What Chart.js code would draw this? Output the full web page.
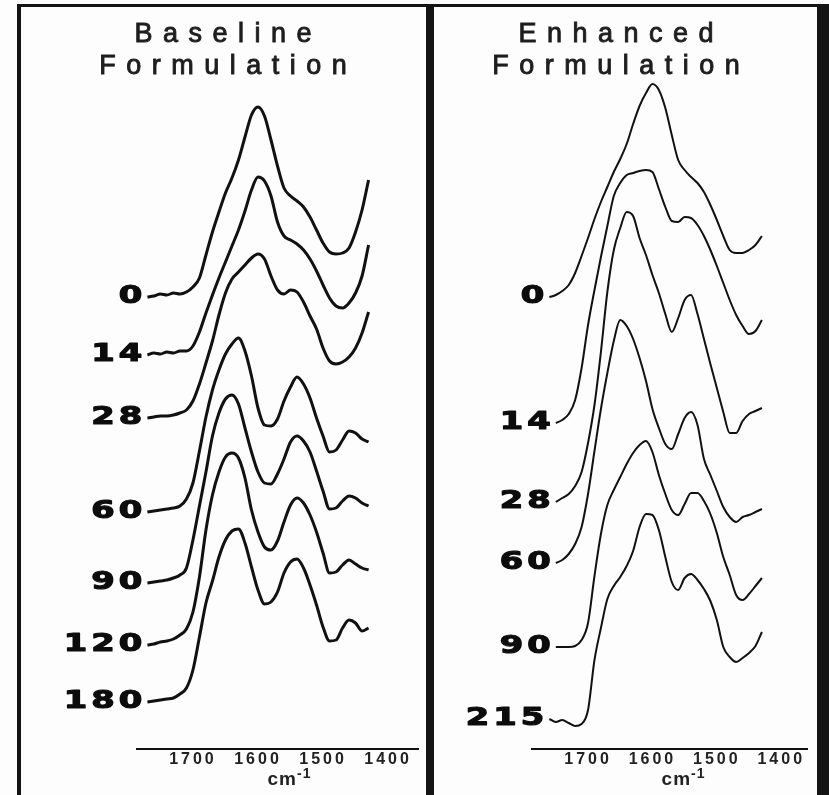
<!DOCTYPE html>
<html>
<head>
<meta charset="utf-8">
<script src="https://cdn.jsdelivr.net/npm/chart.js@4.4.0/dist/chart.umd.min.js"></script>
<style>
  body { margin: 0; background: #fdfdfd; }
  #wrap { position: relative; width: 829px; height: 795px; overflow: hidden; background: #fdfdfd; }
  .bar { position: absolute; background: #141414; }
  .panel { position: absolute; top: 7px; }
  .title {
    position: absolute; top: 17px; width: 400px; box-sizing: border-box; padding-left: 10.5px;
    font-family: 'Liberation Sans', Arial, sans-serif; font-size: 27px; line-height: 32px;
    letter-spacing: 10.5px; text-align: center; color: #1e1e1e; -webkit-text-stroke: 0.9px #1e1e1e;
  }
</style>
</head>
<body>
<div id="wrap">
  <div class="bar" style="left:17px;top:4px;width:812px;height:3px"></div>
  <div class="bar" style="left:17px;top:4px;width:4px;height:791px"></div>
  <div class="bar" style="left:426px;top:4px;width:8px;height:791px"></div>
  <div class="bar" style="left:817px;top:4px;width:12px;height:791px"></div>
  <canvas id="baseline" class="panel" width="405" height="788" style="left:21px"></canvas>
  <canvas id="enhanced" class="panel" width="383" height="788" style="left:434px"></canvas>
  <div class="title" style="left:23px">Baseline<br>Formulation</div>
  <div class="title" style="left:416px">Enhanced<br>Formulation</div>
</div>
<script>
// wavenumber grid (cm-1), shared by both panels
const wavenumbers = [1770, 1760, 1750, 1740, 1730, 1720, 1710, 1700, 1690, 1680, 1670, 1660, 1650, 1640, 1630, 1620, 1610, 1600, 1590, 1580, 1570, 1560, 1550, 1540, 1530, 1520, 1510, 1500, 1490, 1480, 1470, 1460, 1450, 1440, 1430];
const tickValues = [1700, 1600, 1500, 1400];
const unitAt = 1540;

// stacked (offset) intensities, baseline formulation
const baselineDays = ['0', '14', '28', '60', '90', '120', '180'];
const baseline0 = [452, 453, 455, 454, 456, 455, 457, 462, 471, 494, 517, 537, 556, 571, 589, 612, 634, 642, 633, 609, 583, 561, 553, 548, 542, 532, 519, 506, 497, 495, 496, 501, 517, 539, 569];
const baseline14 = [394, 396, 395, 397, 396, 398, 398, 403, 417, 436, 454, 471, 487, 503, 519, 538, 559, 572, 568, 553, 527, 513, 509, 505, 499, 490, 478, 464, 451, 443, 441, 446, 456, 473, 504];
const baseline28 = [331, 332, 333, 333, 334, 336, 339, 348, 365, 386, 408, 434, 456, 470, 477, 484, 491, 495, 490, 473, 459, 455, 459, 457, 447, 433, 420, 401, 388, 385, 387, 392, 401, 416, 437];
const baseline60 = [237, 238, 239, 240, 241, 243, 250, 266, 298, 332, 359, 379, 395, 405, 411, 398, 373, 341, 324, 323, 330, 348, 362, 372, 365, 351, 331, 313, 297, 299, 309, 318, 316, 310, 307];
const baseline90 = [166, 167, 168, 169, 171, 174, 181, 209, 243, 277, 313, 336, 350, 354, 345, 321, 297, 277, 266, 265, 275, 290, 307, 313, 308, 297, 278, 258, 240, 241, 248, 253, 251, 246, 243];
const baseline120 = [104, 105, 107, 108, 110, 114, 120, 137, 172, 219, 254, 277, 292, 296, 291, 271, 239, 217, 202, 199, 208, 227, 244, 251, 246, 234, 217, 196, 176, 177, 184, 189, 185, 181, 179];
const baseline180 = [47, 48, 49, 50, 51, 55, 61, 79, 112, 146, 168, 192, 209, 218, 220, 206, 182, 159, 145, 147, 157, 176, 187, 190, 181, 164, 144, 122, 108, 109, 121, 129, 126, 118, 121];

// stacked (offset) intensities, enhanced formulation
const enhancedDays = ['0', '14', '28', '60', '90', '215'];
const enhanced0 = [null, 452, 454, 458, 464, 476, 493, 511, 530, 547, 562, 577, 590, 605, 625, 643, 656, 665, 659, 641, 614, 589, 579, 572, 566, 557, 544, 529, 513, 499, 496, 496, 499, 504, 513];
const enhanced14 = [null, null, 326, 329, 335, 349, 381, 424, 459, 492, 523, 553, 566, 574, 576, 578, 579, 577, 560, 542, 528, 527, 532, 531, 524, 513, 499, 483, 466, 449, 434, 423, 415, 418, 429];
const enhanced28 = [null, null, 247, 251, 255, 263, 277, 306, 344, 397, 457, 499, 521, 537, 533, 511, 494, 474, 456, 435, 417, 431, 449, 454, 435, 410, 385, 361, 337, 316, 316, 328, 335, 338, 341];
const enhanced60 = [null, null, 186, 189, 195, 205, 222, 255, 298, 340, 376, 408, 429, 423, 410, 391, 368, 340, 321, 305, 300, 315, 331, 337, 324, 290, 274, 258, 242, 232, 227, 232, 234, 237, 240];
const enhanced90 = [null, null, 102, 102, 102, 103, 109, 126, 173, 215, 244, 259, 272, 285, 296, 304, 308, 297, 274, 255, 239, 234, 245, 256, 256, 248, 235, 216, 192, 174, 154, 149, 155, 163, 171];
const enhanced215 = [null, 30, 27, 29, 26, 23, 25, 39, 89, 121, 150, 163, 172, 183, 198, 222, 235, 234, 219, 192, 167, 159, 171, 175, 169, 160, 148, 129, 102, 92, 87, 91, 96, 103, 117];

Chart.defaults.font.family = "'Liberation Sans', Arial, sans-serif";

// day labels at the start of every trace
const dayLabels = {
  id: 'dayLabels',
  afterDatasetsDraw(chart) {
    const ctx = chart.ctx;
    chart.data.datasets.forEach((ds, i) => {
      const pt = chart.getDatasetMeta(i).data[0];
      ctx.save();
      ctx.fillStyle = '#0c0c0c';
      ctx.strokeStyle = '#0c0c0c';
      ctx.lineWidth = 1.2;
      ctx.lineJoin = 'round';
      ctx.font = "bold 25px 'DejaVu Sans'";
      ctx.textAlign = 'right';
      ctx.textBaseline = 'middle';
      ctx.letterSpacing = '3px';
      ctx.translate(pt.x - 1, pt.y - 1);
      ctx.scale(1.35, 1);
      ctx.fillText(ds.label, 0, 0);
      ctx.strokeText(ds.label, 0, 0);
      ctx.restore();
    });
  }
};

// cm-1 under the axis, plus wider spacing for the tick numbers
const unitLabel = {
  id: 'unitLabel',
  beforeDraw(chart) {
    chart.ctx.letterSpacing = '3px';
  },
  afterDraw(chart) {
    const ctx = chart.ctx;
    const x = chart.scales.x;
    const px = x.getPixelForValue(unitAt);
    const py = x.top + 36;
    ctx.save();
    ctx.letterSpacing = '1px';
    ctx.fillStyle = '#222';
    ctx.font = "bold 19px 'Liberation Sans'";
    ctx.textAlign = 'right';
    ctx.textBaseline = 'alphabetic';
    ctx.fillText('cm', px, py);
    ctx.font = "bold 14px 'Liberation Sans'";
    ctx.textAlign = 'left';
    ctx.fillText('-1', px, py - 7);
    ctx.restore();
    ctx.letterSpacing = '0px';
  }
};

function makePanel(id, days, series, xMin, xMax, padLeft, padRight, lineWidth) {
  const ctx = document.getElementById(id).getContext('2d');
  return new Chart(ctx, {
    type: 'line',
    data: {
      datasets: series.map((vals, i) => ({
        label: days[i],
        data: wavenumbers.map((w, j) => ({ x: w, y: vals[j] })).filter(p => p.y !== null),
        borderColor: '#111',
        borderWidth: lineWidth,
        pointRadius: 0,
        fill: false,
        cubicInterpolationMode: 'monotone'
      }))
    },
    options: {
      responsive: false,
      animation: false,
      layout: { padding: { top: 72, left: padLeft, right: padRight, bottom: 0 } },
      plugins: { legend: { display: false }, tooltip: { enabled: false } },
      scales: {
        x: {
          type: 'linear',
          reverse: true,
          min: xMin,
          max: xMax,
          afterBuildTicks: s => { s.ticks = tickValues.map(v => ({ value: v })); },
          afterFit: s => { s.height = 46; },
          grid: { display: false, drawTicks: false },
          border: { display: true, color: '#111', width: 2 },
          ticks: {
            padding: 1,
            color: '#222',
            font: { size: 16, weight: 'bold' },
            callback: v => String(v)
          }
        },
        y: { display: false, min: 0, max: 670 }
      }
    },
    plugins: [dayLabels, unitLabel]
  });
}

makePanel('baseline', baselineDays,
  [baseline0, baseline14, baseline28, baseline60, baseline90, baseline120, baseline180],
  1354, 1786, 116, 8, 3);
makePanel('enhanced', enhancedDays,
  [enhanced0, enhanced14, enhanced28, enhanced60, enhanced90, enhanced215],
  1360, 1787, 98, 10, 2);
</script>
</body>
</html>
